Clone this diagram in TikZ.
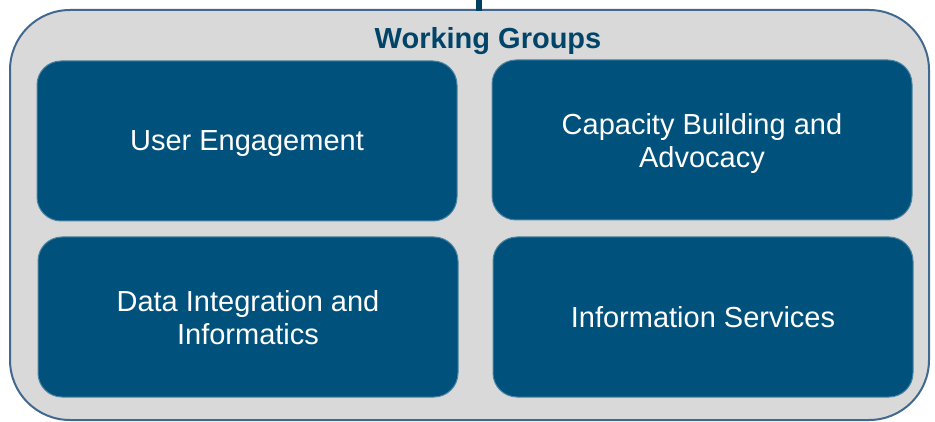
\documentclass[tikz,border=0pt]{standalone}
\usepackage{fontspec}
\setmainfont{Liberation Sans}
\usetikzlibrary{positioning}

\definecolor{wgblue}{RGB}{0,81,123}
\definecolor{wgedge}{RGB}{65,105,143}
\definecolor{wggray}{RGB}{217,217,217}

\begin{document}
\begin{tikzpicture}[x=1pt,y=-1pt]
    % Working group styles
    \tikzstyle{group}=[draw=wgblue!70!white,line width=1pt,fill=wgblue,rounded corners=24pt,
        minimum width=420pt,minimum height=160pt,text=white,align=center,
        font=\fontsize{29}{33}\selectfont,inner sep=0pt,text depth=0pt]
    \tikzstyle{frame}=[draw=wgedge,line width=2pt,fill=wggray,rounded corners=60pt]

    \useasboundingbox (0,0) rectangle (935,422);

    % Outer frame and link
    \draw[frame] (10,10) rectangle (929,420);
    \coordinate (top) at (478.5,0);
    \coordinate (hook) at (478.5,11);
    \draw[wgblue!80!black,line width=6pt] (top) -- (hook);

    % Nodes, positions, and labels
    \node[text=wgblue!85!black,font=\bfseries\fontsize{29}{33}\selectfont,text depth=0pt] (title) at (488,37.5) {Working Groups};
    \node[group] (user) at (247,141) {User Engagement};
    \node[group] (capacity) at (702,140) {Capacity Building and\\Advocacy};
    \node[group] (data) at (248,317) {Data Integration and\\Informatics};
    \node[group] (info) at (703,317) {Information Services};

\end{tikzpicture}
\end{document}
